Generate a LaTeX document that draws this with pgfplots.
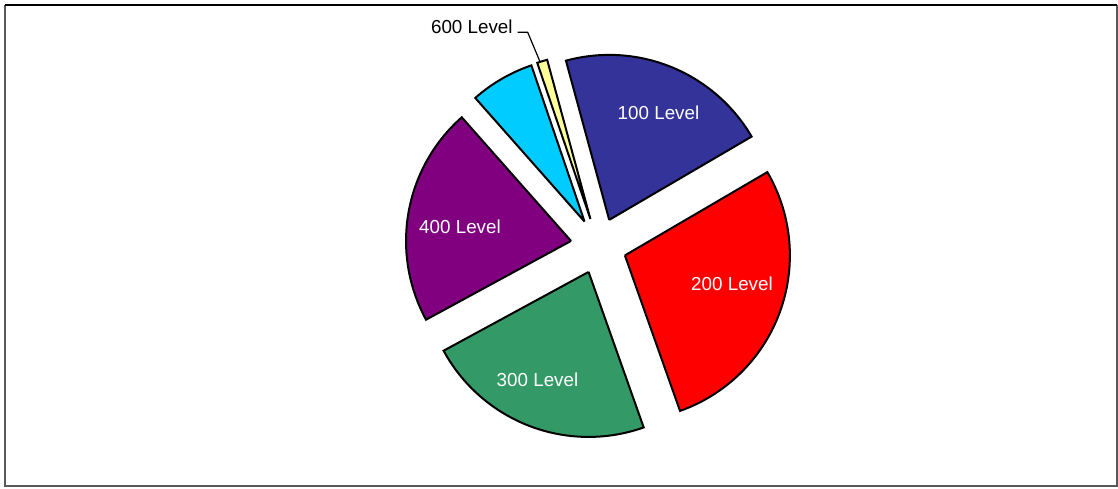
\documentclass[border=0pt]{standalone}
\usepackage{fontspec}
\setmainfont{Liberation Sans}
\usepackage{pgfplots}
\usepackage{pgfplotstable}
\pgfplotsset{compat=1.18}

\definecolor{c100}{HTML}{333399}
\definecolor{c200}{HTML}{FF0000}
\definecolor{c300}{HTML}{339966}
\definecolor{c400}{HTML}{800080}
\definecolor{c500}{HTML}{00CCFF}
\definecolor{c600}{HTML}{FFFF99}

% share of each level, percent
\pgfplotstableread{
level value
100 20.8
200 28.0
300 22.5
400 21.4
500 6.3
600 1.0
}\piedata

% geometry in pixel units of the 1118x489 frame
\def\cx{598.6}
\def\cy{243.2}
\def\R{165}
\def\dd{28}
\def\acc{105.2}

\newcommand{\getslice}[1]{%
  \pgfplotstablegetelem{#1}{value}\of\piedata
  \pgfmathsetmacro\tmpend{\acc-3.6*\pgfplotsretval}%
  \expandafter\xdef\csname sa#1\endcsname{\acc}%
  \expandafter\xdef\csname se#1\endcsname{\tmpend}%
  \xdef\acc{\tmpend}}

\newcommand{\pieslice}[2]{%
  \pgfmathsetmacro\ps{\csname sa#1\endcsname}%
  \pgfmathsetmacro\pe{\csname se#1\endcsname}%
  \pgfmathsetmacro\px{\cx+\dd*cos(0.5*(\ps+\pe))}%
  \pgfmathsetmacro\py{\cy+\dd*sin(0.5*(\ps+\pe))}%
  \addplot[draw=black, line width=1bp, fill=#2, line join=miter,
    variable=\t, samples at={-1,0,...,60,61}]
    ({\px + ((\t<0 || \t>60) ? 0 : \R)*cos(\ps+(\pe-\ps)*min(max(\t,0),60)/60)},
     {\py + ((\t<0 || \t>60) ? 0 : \R)*sin(\ps+(\pe-\ps)*min(max(\t,0),60)/60)});
}

\begin{document}
\begin{tikzpicture}
\getslice{0}\getslice{1}\getslice{2}\getslice{3}\getslice{4}\getslice{5}
\begin{axis}[
  scale only axis,
  width=559bp, height=244.5bp,
  xmin=0, xmax=1118, ymin=0, ymax=489,
  hide axis, clip=false,
]
\path (axis cs:0,0) rectangle (axis cs:1118,489);
\draw[gray!70!black, line width=0.7bp] (axis cs:5,484) -- (axis cs:5,3) -- (axis cs:1117,3) -- (axis cs:1117,484);
\draw[black, line width=0.7bp] (axis cs:5,484) -- (axis cs:1117,484);

\pieslice{0}{c100}
\pieslice{1}{c200}
\pieslice{2}{c300}
\pieslice{3}{c400}
\pieslice{4}{c500}
\pieslice{5}{c600}

\begin{scope}[every node/.style={font=\fontsize{9.4bp}{11bp}\selectfont, inner sep=0pt}]
\node[white] at (axis cs:658.5,376) {100 Level};
\node[white] at (axis cs:732,205) {200 Level};
\node[white] at (axis cs:537.5,109) {300 Level};
\node[white] at (axis cs:460,262) {400 Level};
\node[black, anchor=east] at (axis cs:513,462) {600 Level};
\end{scope}
\draw[black, line width=0.6bp] (axis cs:517.7,456.7) -- (axis cs:527.7,456.7) -- (axis cs:540,427.3);
\end{axis}
\end{tikzpicture}
\end{document}
